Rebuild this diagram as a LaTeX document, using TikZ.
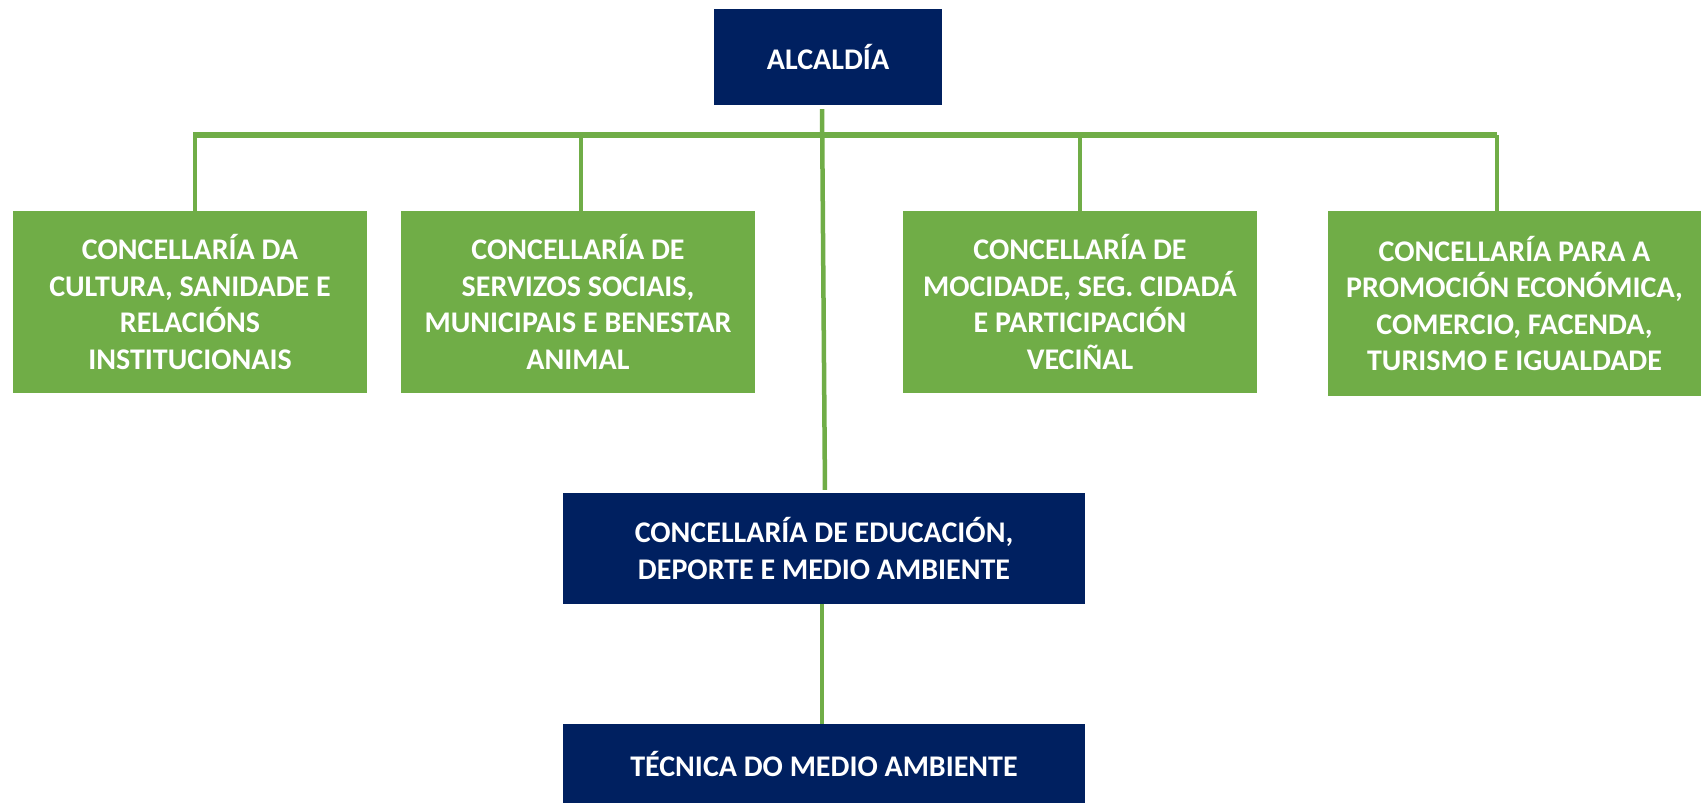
\documentclass[tikz,border=0pt]{standalone}
\usepackage{fontspec}
\setmainfont{Carlito}
\usetikzlibrary{positioning}

\definecolor{navy}{RGB}{0,32,96}
\definecolor{leaf}{RGB}{112,173,71}

\begin{document}
\begin{tikzpicture}[x=1pt,y=-1pt,
    office/.style={rectangle, fill=navy, text=white, font=\bfseries\fontsize{30}{36.5}\selectfont, align=center, inner sep=0pt},
    dept/.style={rectangle, fill=leaf, text=white, font=\bfseries\fontsize{30}{36.5}\selectfont, align=center, inner sep=0pt, minimum width=354pt, minimum height=182pt},
    link/.style={draw=leaf, line width=4.5pt}]
    \useasboundingbox (0,0) rectangle (1701,803);

    \node[office, minimum width=228pt, minimum height=96pt] (Alcaldia) at (828,57) {ALCALDÍA};
    \node[dept] (Cultura) at (190,302) {CONCELLARÍA DA\\CULTURA, SANIDADE E\\RELACIÓNS\\INSTITUCIONAIS};
    \node[dept] (Servizos) at (578,302) {CONCELLARÍA DE\\SERVIZOS SOCIAIS,\\MUNICIPAIS E BENESTAR\\ANIMAL};
    \node[dept] (Mocidade) at (1080,302) {CONCELLARÍA DE\\MOCIDADE, SEG. CIDADÁ\\E PARTICIPACIÓN\\VECIÑAL};
    \node[dept, minimum width=373pt, minimum height=185pt] (Promocion) at (1514.5,303.5) {CONCELLARÍA PARA A\\PROMOCIÓN ECONÓMICA,\\COMERCIO, FACENDA,\\TURISMO E IGUALDADE};
    \node[office, minimum width=522pt, minimum height=111pt] (Educacion) at (824,548.5) {CONCELLARÍA DE EDUCACIÓN,\\DEPORTE E MEDIO AMBIENTE};
    \node[office, minimum width=522pt, minimum height=79pt] (Tecnica) [below=120pt of Educacion] {TÉCNICA DO MEDIO AMBIENTE};

    \coordinate (BarWest) at (193,135);
    \coordinate (BarEast) at (1497,135);

    \draw[link, line width=5.5pt] (BarWest) -- (BarEast);
    \draw[link] ([xshift=2pt]BarWest) -- ([xshift=2pt]BarWest |- Cultura.north);
    \draw[link] ([xshift=3pt]Servizos.north |- BarWest) -- ([xshift=3pt]Servizos.north);
    \draw[link] (Mocidade.north |- BarWest) -- (Mocidade.north);
    \draw[link] (BarEast) -- (BarEast |- Promocion.north);
    \draw[link, shorten <=4pt, shorten >=3pt] ([xshift=-6pt]Alcaldia.south) -- ([xshift=1pt]Educacion.north);
    \draw[link] ([xshift=-2pt]Educacion.south) -- ([xshift=-2pt]Tecnica.north);
\end{tikzpicture}
\end{document}
